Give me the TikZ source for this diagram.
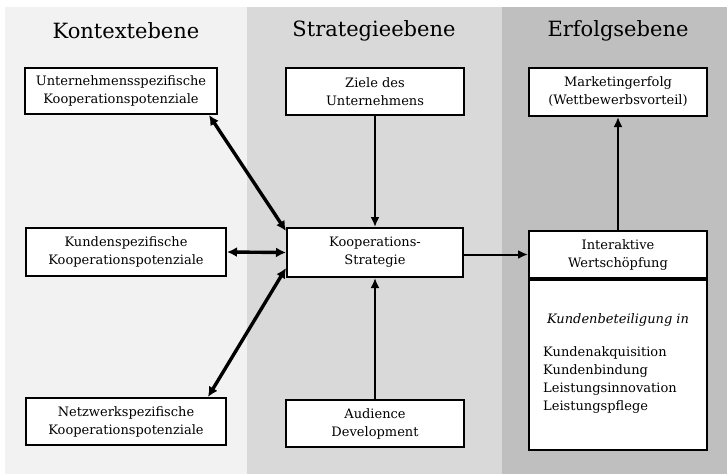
\documentclass[tikz,border=0pt]{standalone}
\usepackage{fontspec}
\setmainfont{DejaVu Serif}
\usetikzlibrary{arrows.meta, positioning}
\definecolor{kontext}{HTML}{F2F2F2}
\definecolor{strategie}{HTML}{D9D9D9}
\definecolor{erfolg}{HTML}{BFBFBF}

\begin{document}
\begin{tikzpicture}[x=1pt,y=-1pt,>={Latex[length=10pt,width=9pt]}]
    \tikzstyle{ebene}=[font=\fontsize{21}{25}\selectfont]
    \tikzstyle{box}=[draw=black,fill=white,line width=2pt,align=center,inner sep=0pt,
        font=\fontsize{13}{18}\selectfont]
    \tikzstyle{thin arrow}=[->,line width=2pt]
    \tikzstyle{thick arrow}=[<->,line width=3.4pt,>={Latex[length=10pt,width=10pt]}]

    \useasboundingbox (0,0) rectangle (727,475);
    % Ebenen
    \fill[kontext] (5,7) rectangle (247,474);
    \fill[strategie] (247,7) rectangle (502,474);
    \fill[erfolg] (502,7) rectangle (727,474);

    \node[ebene] (t-kontext) at (126,31) {Kontextebene};
    \node[ebene] (t-strategie) at (374,31) {Strategieebene};
    \node[ebene] (t-erfolg) at (618,31) {Erfolgsebene};

    % Kontextebene
    \node[box,minimum width=192pt,minimum height=46pt] (ucoop) at (121,91)
        {Unternehmensspezifische\\Kooperationspotenziale};
    \node[box,minimum width=200pt,minimum height=48pt] (kcoop) at (126,252)
        {Kundenspezifische\\Kooperationspotenziale};
    \node[box,minimum width=200pt,minimum height=47pt] (ncoop) at (126,421.5)
        {Netzwerkspezifische\\Kooperationspotenziale};

    % Strategieebene
    \node[box,minimum width=178pt,minimum height=47pt] (ziele) at (375,91.5)
        {Ziele des\\Unternehmens};
    \node[box,minimum width=176pt,minimum height=49pt] (strat) at (375,252.5)
        {Kooperations-\\Strategie};
    \node[box,minimum width=178pt,minimum height=47pt] (aud) at (375,423.5)
        {Audience\\Development};

    % Erfolgsebene
    \node[box,minimum width=178pt,minimum height=48pt] (mark) at (618,92)
        {Marketingerfolg\\(Wettbewerbsvorteil)};
    \node[box,minimum width=178pt,minimum height=47pt] (inter) at (618,254.5)
        {Interaktive\\Wertschöpfung};
    \node[box,minimum width=178pt,minimum height=170pt,below=0pt of inter] (detail) {};
    \node[font=\fontsize{13}{18}\selectfont\itshape] (beteil) at (618,320) {Kundenbeteiligung in};
    \node[font=\fontsize{13}{18}\selectfont,align=left,anchor=north west,inner sep=0pt]
        (liste) at (543,346) {Kundenakquisition\\Kundenbindung\\Leistungsinnovation\\Leistungspflege};

    \draw[thick arrow] ([xshift=-9pt]ucoop.south east) -- ([yshift=-4pt]strat.north west);
    \draw[thick arrow] (kcoop.east) -- (strat.west);
    \draw[thick arrow] ([xshift=-19pt]ncoop.north east) -- ([yshift=10pt]strat.south west);

    \draw[thin arrow] (ziele) -- (strat);
    \draw[thin arrow] (aud) -- (strat);
    \draw[thin arrow] (strat.east |- inter.west) -- (inter.west);
    \draw[thin arrow] (inter) -- (mark);
\end{tikzpicture}
\end{document}
